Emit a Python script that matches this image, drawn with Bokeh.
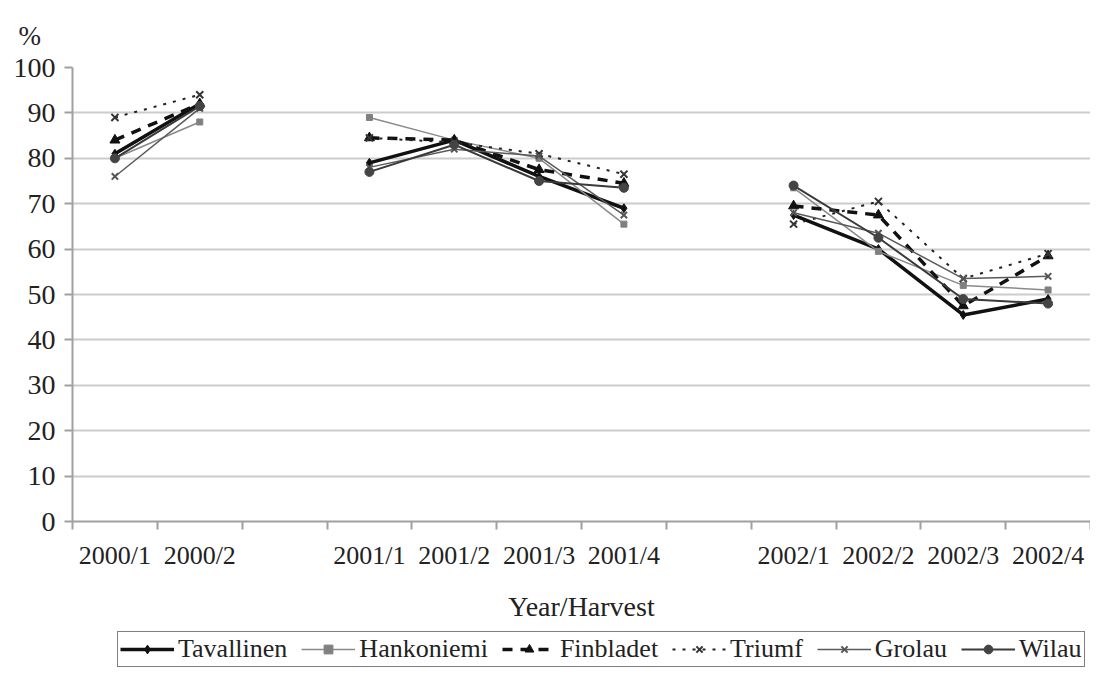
import math
from bokeh.plotting import figure
from bokeh.layouts import column
from bokeh.models import FixedTicker, Range1d, Legend, LegendItem
from bokeh.embed import file_html
from bokeh.resources import INLINE

nan = float("nan")
categories = ["2000/1", "2000/2", "", "2001/1", "2001/2", "2001/3", "2001/4", "",
              "2002/1", "2002/2", "2002/3", "2002/4"]
tavallinen = [81, 92, nan, 79, 84, 76, 69, nan, 67.5, 60, 45.5, 49]
hankoniemi = [80, 88, nan, 89, 84, 80, 65.5, nan, 73.5, 59.5, 52, 51]
finbladet = [84, 92, nan, 84.5, 84, 77.5, 74.5, nan, 69.5, 67.5, 47.5, 58.5]
triumf = [89, 94, nan, 84.5, 83.5, 81, 76.5, nan, 65.5, 70.5, 53.5, 59]
grolau = [76, 91, nan, 78, 82, 80.5, 67.5, nan, 68, 63.5, 53.5, 54]
wilau = [80, 91.5, nan, 77, 83, 75, 73.5, nan, 74, 62.5, 49, 48]
y_ticks = list(range(0, 101, 10))

FONT = "Liberation Serif"
TXT = "#222222"
AX = "#a0a0a0"
xs = [i + 0.5 for i in range(len(categories))]

p = figure(width=1090, height=624, x_range=Range1d(0, len(categories)),
           y_range=Range1d(0, 100), output_backend="svg", toolbar_location=None,
           min_border_left=72, min_border_right=0, min_border_top=67,
           min_border_bottom=103, title="%")
p.outline_line_color = None
p.title.align = "left"
p.title.offset = -54
p.title.standoff = 33
p.title.text_font = FONT
p.title.text_font_size = "27px"
p.title.text_font_style = "normal"
p.title.text_color = TXT

# x axis: labels at slot centres, tick marks at slot boundaries (minor ticks)
centres = [x for x, c in zip(xs, categories) if c]
p.xaxis.ticker = FixedTicker(ticks=centres, minor_ticks=list(range(len(categories) + 1)))
p.xaxis.major_label_overrides = {x: c for x, c in zip(xs, categories) if c}
p.xaxis.major_tick_line_color = None
p.xaxis.major_tick_out = 0
p.xaxis.major_tick_in = 0
p.xaxis.minor_tick_out = 8
p.xaxis.minor_tick_in = 0
p.xaxis.minor_tick_line_color = AX
p.xaxis.minor_tick_line_width = 2
p.xaxis.axis_line_color = AX
p.xaxis.axis_line_width = 2
p.xaxis.major_label_text_font = FONT
p.xaxis.major_label_text_font_size = "26px"
p.xaxis.major_label_text_color = TXT
p.xaxis.major_label_standoff = 11
p.xaxis.axis_label = "Year/Harvest"
p.xaxis.axis_label_text_font = FONT
p.xaxis.axis_label_text_font_size = "28px"
p.xaxis.axis_label_text_font_style = "normal"
p.xaxis.axis_label_text_color = TXT
p.xaxis.axis_label_standoff = 18
p.xgrid.visible = False

p.yaxis.ticker = FixedTicker(ticks=y_ticks, minor_ticks=[])
p.yaxis.major_tick_out = 8
p.yaxis.major_tick_in = 0
p.yaxis.major_tick_line_color = AX
p.yaxis.major_tick_line_width = 2
p.yaxis.axis_line_color = AX
p.yaxis.axis_line_width = 2
p.yaxis.major_label_text_font = FONT
p.yaxis.major_label_text_font_size = "28px"
p.yaxis.major_label_text_color = TXT
p.yaxis.major_label_standoff = 9
p.ygrid.ticker = FixedTicker(ticks=y_ticks)
p.ygrid.grid_line_color = "#cccccc"
p.ygrid.grid_line_width = 2

series = [
    ("Tavallinen", tavallinen, dict(line_color="#111111", line_width=3.5),
     dict(marker="diamond", size=9, color="#111111")),
    ("Hankoniemi", hankoniemi, dict(line_color="#8a8a8a", line_width=1.5),
     dict(marker="square", size=6, color="#808080")),
    ("Finbladet", finbladet, dict(line_color="#111111", line_width=3.5, line_dash="10 8"),
     dict(marker="triangle", size=10, color="#111111")),
    ("Triumf", triumf, dict(line_color="#222222", line_width=2, line_dash="3 7"),
     dict(marker="x", size=10, line_width=2, color="#333333")),
    ("Grolau", grolau, dict(line_color="#5a5a5a", line_width=1.5),
     dict(marker="x", size=9, line_width=2, color="#555555")),
    ("Wilau", wilau, dict(line_color="#3a3a3a", line_width=2),
     dict(marker="circle", size=9, color="#444444")),
]

for name, ys, lkw, mkw in series:
    p.line(xs, ys, **lkw)
    p.scatter(xs, ys, **mkw)

# legend strip below the chart (its own small figure with key glyphs only)
lg = figure(width=1090, height=46, x_range=Range1d(0, 1), y_range=Range1d(0, 1),
            x_axis_type=None, y_axis_type=None, output_backend="svg",
            toolbar_location=None, min_border=0)
lg.outline_line_color = None
items = []
for name, ys, lkw, mkw in series:
    rl = lg.line([5, 6], [5, 5], **lkw)
    rm = lg.scatter([5], [5], **mkw)
    items.append(LegendItem(label=name, renderers=[rl, rm]))
legend = Legend(items=items, orientation="horizontal", location=(45, 3),
                border_line_color="black", border_line_width=1.5,
                label_text_font=FONT, label_text_font_size="26px",
                label_text_color=TXT, glyph_width=54, glyph_height=22,
                label_standoff=4, spacing=14, padding=2, margin=0,
                background_fill_alpha=1)
lg.add_layout(legend)

layout = column(p, lg, spacing=0)
open("out.html", "w").write(file_html(layout, INLINE))
